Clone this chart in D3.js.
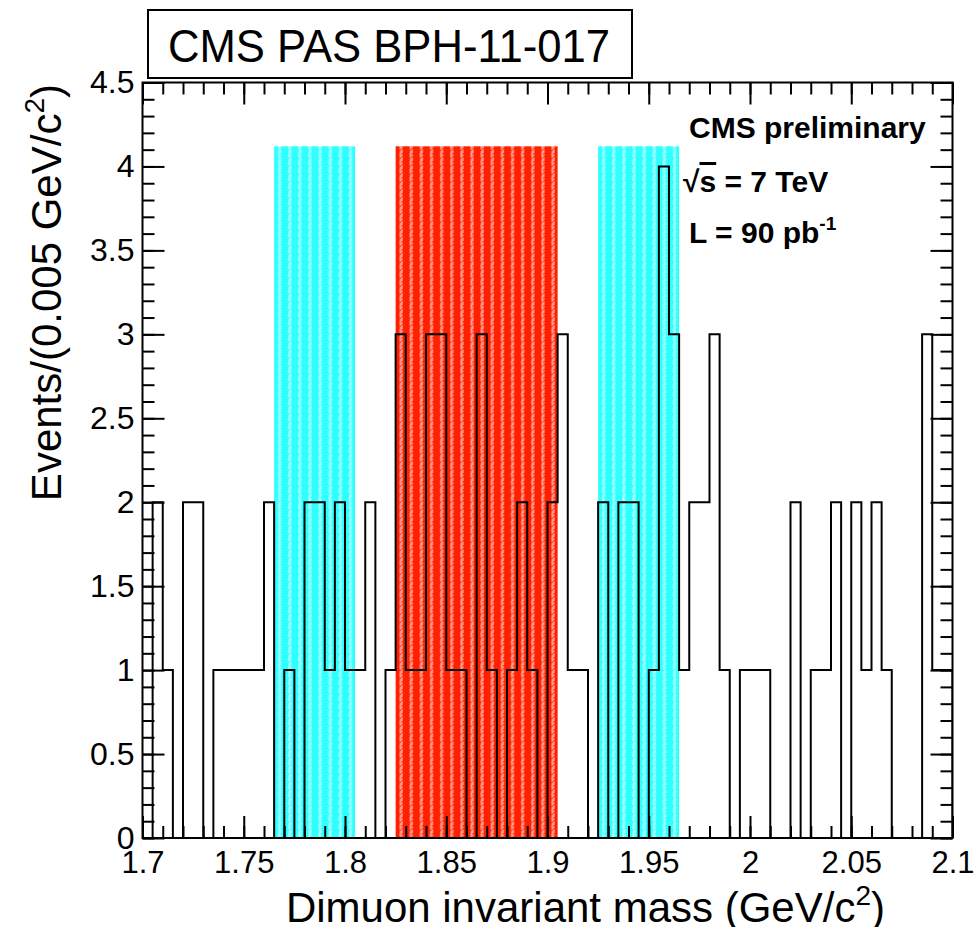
<!DOCTYPE html>
<html>
<head>
<meta charset="utf-8">
<script src="https://cdn.jsdelivr.net/npm/d3@7"></script>
<style>
  body { margin: 0; background: #fff; }
  svg { display: block; }
  text { font-family: "Liberation Sans", Arial, Helvetica, sans-serif; fill: #000; }
</style>
</head>
<body>
<svg id="chart" width="975" height="927"></svg>
<script>
// Dimuon invariant mass histogram, 80 bins of 0.005 GeV/c^2 from 1.70 to 2.10
const binStart = 1.7;
const binWidth = 0.005;
const counts = [
  0, 2, 1, 0, 2, 2, 0, 1, 1, 1,
  1, 1, 2, 0, 1, 0, 2, 2, 1, 2,
  1, 1, 2, 0, 1, 3, 1, 1, 3, 3,
  1, 1, 0, 3, 1, 0, 1, 2, 1, 0,
  2, 3, 1, 1, 0, 2, 0, 2, 2, 0,
  1, 4, 3, 1, 2, 2, 3, 1, 0, 1,
  1, 1, 0, 0, 2, 0, 1, 1, 2, 0,
  2, 1, 2, 1, 0, 0, 0, 3, 1, 1
];

// Mass windows (GeV/c^2): lower sideband, signal region, upper sideband
const sidebandLow = [1.765, 1.805];
const signalWindow = [1.825, 1.905];
const sidebandHigh = [1.925, 1.965];
const bandTop = 4.12;

const xDomain = [1.7, 2.1];
const yDomain = [0, 4.5];
const xMajorTicks = [1.7, 1.75, 1.8, 1.85, 1.9, 1.95, 2.0, 2.05, 2.1];
const xTickLabels = ["1.7", "1.75", "1.8", "1.85", "1.9", "1.95", "2", "2.05", "2.1"];
const yMajorTicks = [0, 0.5, 1, 1.5, 2, 2.5, 3, 3.5, 4, 4.5];
const yTickLabels = ["0", "0.5", "1", "1.5", "2", "2.5", "3", "3.5", "4", "4.5"];

const svg = d3.select("#chart");
const frame = { left: 142.5, right: 952.5, top: 82.5, bottom: 838 };

const x = d3.scaleLinear().domain(xDomain).range([frame.left, frame.right]);
const y = d3.scaleLinear().domain(yDomain).range([frame.bottom, frame.top]);

// Fill patterns: solid colour with small white dotted zig-zag columns
const defs = svg.append("defs");
function makePattern(id, color) {
  const p = defs.append("pattern")
    .attr("id", id)
    .attr("patternUnits", "userSpaceOnUse")
    .attr("x", frame.left)
    .attr("y", frame.top)
    .attr("width", 10.125)
    .attr("height", 8);
  p.append("rect").attr("width", 10.125).attr("height", 8).attr("fill", color);
  const dots = [[4, 0], [6, 0], [5, 1], [4, 2], [6, 3], [5, 4], [4, 5], [6, 5], [5, 6], [4, 7]];
  p.selectAll("rect.d").data(dots).join("rect")
    .attr("class", "d")
    .attr("x", d => d[0]).attr("y", d => d[1])
    .attr("width", 1.2).attr("height", 1.2)
    .attr("fill", "#ffffff").attr("opacity", 0.85);
}
makePattern("patCyan", "#2effff");
makePattern("patRed", "#ff2000");

// Clip everything inside the frame
defs.append("clipPath").attr("id", "plotClip")
  .append("rect")
  .attr("x", frame.left).attr("y", frame.top)
  .attr("width", frame.right - frame.left).attr("height", frame.bottom - frame.top);

const plot = svg.append("g").attr("clip-path", "url(#plotClip)");

// Mass-window bands
const bands = [
  { range: sidebandLow, fill: "url(#patCyan)" },
  { range: signalWindow, fill: "url(#patRed)" },
  { range: sidebandHigh, fill: "url(#patCyan)" }
];
plot.selectAll("rect.band").data(bands).join("rect")
  .attr("class", "band")
  .attr("x", d => x(d.range[0]))
  .attr("width", d => x(d.range[1]) - x(d.range[0]))
  .attr("y", y(bandTop))
  .attr("height", y(0) - y(bandTop))
  .attr("fill", d => d.fill);

// Histogram outline as a step line
const steps = [[binStart, 0]];
counts.forEach((c, i) => {
  const lo = binStart + i * binWidth;
  steps.push([lo, c]);
  steps.push([lo + binWidth, c]);
});
steps.push([binStart + counts.length * binWidth, 0]);

const line = d3.line().x(d => x(d[0])).y(d => y(d[1]));
plot.append("path")
  .datum(steps)
  .attr("d", line)
  .attr("fill", "none")
  .attr("stroke", "#000")
  .attr("stroke-width", 2)
  .attr("stroke-linejoin", "miter");

// Axes: inward ticks on all four sides
const majorLen = 22, minorLen = 12;
const xMinor = d3.range(0, 41).map(i => +(1.7 + i * 0.01).toFixed(3));
const yMinor = d3.range(0, 46).map(i => +(i * 0.1).toFixed(2));

function styleAxis(g) {
  g.select(".domain").remove();
  g.selectAll(".tick line").attr("stroke", "#000").attr("stroke-width", 2);
}

// bottom
svg.append("g").attr("transform", `translate(0,${frame.bottom})`)
  .call(d3.axisBottom(x).tickValues(xMinor).tickSize(-minorLen).tickFormat(""))
  .call(styleAxis);
svg.append("g").attr("transform", `translate(0,${frame.bottom})`)
  .call(d3.axisBottom(x).tickValues(xMajorTicks).tickSize(-majorLen).tickPadding(13)
    .tickFormat((d, i) => xTickLabels[i]))
  .call(styleAxis)
  .call(g => g.selectAll("text").attr("font-size", 31).attr("font-family", "Liberation Sans, Arial, sans-serif").attr("fill", "#000"));
// top
svg.append("g").attr("transform", `translate(0,${frame.top})`)
  .call(d3.axisTop(x).tickValues(xMinor).tickSize(-minorLen).tickFormat(""))
  .call(styleAxis);
svg.append("g").attr("transform", `translate(0,${frame.top})`)
  .call(d3.axisTop(x).tickValues(xMajorTicks).tickSize(-majorLen).tickFormat(""))
  .call(styleAxis);
// left
svg.append("g").attr("transform", `translate(${frame.left},0)`)
  .call(d3.axisLeft(y).tickValues(yMinor).tickSize(-minorLen).tickFormat(""))
  .call(styleAxis);
svg.append("g").attr("transform", `translate(${frame.left},0)`)
  .call(d3.axisLeft(y).tickValues(yMajorTicks).tickSize(-majorLen).tickPadding(8)
    .tickFormat((d, i) => yTickLabels[i]))
  .call(styleAxis)
  .call(g => g.selectAll("text").attr("font-size", 32).attr("font-family", "Liberation Sans, Arial, sans-serif").attr("fill", "#000"));
// right
svg.append("g").attr("transform", `translate(${frame.right},0)`)
  .call(d3.axisRight(y).tickValues(yMinor).tickSize(-minorLen).tickFormat(""))
  .call(styleAxis);
svg.append("g").attr("transform", `translate(${frame.right},0)`)
  .call(d3.axisRight(y).tickValues(yMajorTicks).tickSize(-majorLen).tickFormat(""))
  .call(styleAxis);

// Frame
svg.append("rect")
  .attr("x", frame.left).attr("y", frame.top)
  .attr("width", frame.right - frame.left).attr("height", frame.bottom - frame.top)
  .attr("fill", "none").attr("stroke", "#000").attr("stroke-width", 2);

// Axis titles
const xTitle = svg.append("text")
  .attr("x", 885).attr("y", 922)
  .attr("text-anchor", "end")
  .attr("font-size", 42);
xTitle.append("tspan").text("Dimuon invariant mass (GeV/c");
xTitle.append("tspan").attr("font-size", 28).attr("dy", -17).text("2");
xTitle.append("tspan").attr("dy", 17).text(")");

const yTitle = svg.append("text")
  .attr("transform", "translate(61,84) rotate(-90)")
  .attr("text-anchor", "end")
  .attr("font-size", 42);
yTitle.append("tspan").text("Events/(0.005 GeV/c");
yTitle.append("tspan").attr("font-size", 28).attr("dy", -17).text("2");
yTitle.append("tspan").attr("dy", 17).text(")");

// Document label box
svg.append("rect")
  .attr("x", 148).attr("y", 10).attr("width", 484).attr("height", 68)
  .attr("fill", "#fff").attr("stroke", "#000").attr("stroke-width", 2);
svg.append("text")
  .attr("x", 168).attr("y", 62)
  .attr("font-size", 46)
  .attr("textLength", 442).attr("lengthAdjust", "spacingAndGlyphs")
  .text("CMS PAS BPH-11-017");

// Experiment labels
const info = svg.append("g").attr("font-weight", "bold").attr("font-size", 30);
info.append("text").attr("x", 689).attr("y", 138).text("CMS preliminary");
const sq = info.append("text").attr("x", 683).attr("y", 192);
sq.append("tspan").text("\u221A");
sq.append("tspan").attr("text-decoration", "overline").text("s");
sq.append("tspan").text(" = 7 TeV");
const lum = info.append("text").attr("x", 689).attr("y", 243);
lum.append("tspan").text("L = 90 pb");
lum.append("tspan").attr("font-size", 19).attr("dy", -13).text("-1");
</script>
</body>
</html>
